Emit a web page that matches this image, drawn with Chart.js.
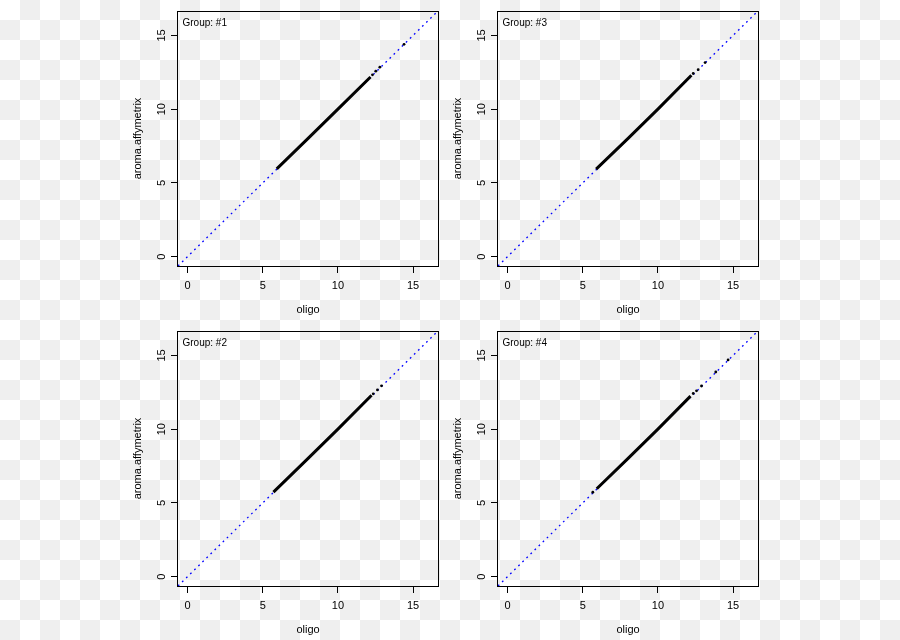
<!DOCTYPE html>
<html>
<head>
<meta charset="utf-8">
<script src="https://cdn.jsdelivr.net/npm/chart.js@4.4.1/dist/chart.umd.min.js"></script>
<style>
  html, body { margin: 0; padding: 0; }
  body {
    width: 900px; height: 640px; position: relative; overflow: hidden;
    background: repeating-conic-gradient(#efefef 0 25%, #ffffff 0 50%) 0 0 / 40px 40px;
  }
  canvas { position: absolute; }
</style>
</head>
<body>
<canvas id="g1" width="332" height="320" style="left:118px;top:0px"></canvas>
<canvas id="g3" width="332" height="320" style="left:438px;top:0px"></canvas>
<canvas id="g2" width="332" height="320" style="left:118px;top:320px"></canvas>
<canvas id="g4" width="332" height="320" style="left:438px;top:320px"></canvas>
<script>
// axis limits (same on both axes) and ticks
const axisRange = [-0.64, 16.66];
const tickValues = [0, 5, 10, 15];
const xTitle = 'oligo';
const yTitle = 'aroma.affymetrix';

// dense part of each cloud (start / end) and the scattered points above it
const band1X = [5.93, 8.0, 10.0, 12.17];
const band1Y = [5.95, 8.0, 10.0, 12.18];
const pts1X = [12.30, 12.52, 12.79, 14.40];
const pts1Y = [12.33, 12.58, 12.85, 14.40];

const band2X = [5.71, 8.0, 10.0, 12.24];
const band2Y = [5.73, 8.0, 10.0, 12.30];
const pts2X = [12.35, 12.63, 12.90];
const pts2Y = [12.40, 12.66, 12.94];

const band3X = [5.89, 8.0, 10.0, 12.23];
const band3Y = [5.93, 8.0, 10.0, 12.30];
const pts3X = [12.35, 12.68, 13.14];
const pts3Y = [12.42, 12.68, 13.16];

const band4X = [5.93, 8.0, 10.0, 12.17];
const band4Y = [5.96, 8.0, 10.0, 12.24];
const pts4X = [5.67, 12.35, 12.57, 12.90, 13.85, 14.67];
const pts4Y = [5.72, 12.42, 12.60, 12.93, 13.88, 14.70];

const font = 'Liberation Sans, Arial, sans-serif';

const framePlugin = {
  id: 'frame',
  afterDatasetsDraw(chart) {
    const {ctx, chartArea: a} = chart;
    ctx.save();
    ctx.strokeStyle = '#000';
    ctx.lineWidth = 1;
    ctx.strokeRect(a.left - 0.5, a.top + 0.5, a.right - a.left + 1, a.bottom - a.top);
    ctx.fillStyle = '#000';
    ctx.font = '10px ' + font;
    ctx.textBaseline = 'middle';
    ctx.textAlign = 'left';
    ctx.fillText(chart.options.plugins.frame.label, a.left + 4.5, a.top + 12);
    ctx.restore();
  }
};

function xy(xs, ys) {
  return xs.map((v, i) => ({x: v, y: ys[i]}));
}

function makeChart(id, label, bandX, bandY, ptsX, ptsY) {
  const axisCommon = {
    type: 'linear',
    min: axisRange[0],
    max: axisRange[1],
    afterBuildTicks: s => { s.ticks = tickValues.map(v => ({value: v})); },
    grid: {display: true, drawOnChartArea: false, drawTicks: true, tickLength: 7, color: '#000', lineWidth: 1},
    border: {display: false}
  };
  new Chart(document.getElementById(id), {
    type: 'scatter',
    data: {
      datasets: [
        {
          data: xy(ptsX, ptsY),
          pointRadius: 1.4,
          pointBackgroundColor: '#000',
          pointBorderWidth: 0,
          showLine: false
        },
        {
          data: xy(bandX, bandY),
          showLine: true,
          borderColor: '#000',
          borderWidth: 3,
          pointRadius: 0
        },
        {
          data: xy(axisRange, axisRange),
          showLine: true,
          borderColor: '#0000ff',
          borderWidth: 1.3,
          borderDash: [1.8, 3.9],
          pointRadius: 0
        }
      ]
    },
    options: {
      responsive: false,
      animation: false,
      devicePixelRatio: 1,
      layout: {padding: {top: 11, right: 12, left: 0, bottom: 0}},
      plugins: {legend: {display: false}, tooltip: {enabled: false}, frame: {label: label}},
      scales: {
        x: Object.assign({}, axisCommon, {
          afterFit: s => { s.height = 54; },
          ticks: {color: '#000', font: {family: font, size: 11}, padding: 6, callback: v => String(v)},
          title: {display: true, text: xTitle, color: '#000', font: {family: font, size: 11}, padding: {top: 0, bottom: 3}}
        }),
        y: Object.assign({}, axisCommon, {
          afterFit: s => { s.width = 60; },
          ticks: {color: '#000', font: {family: font, size: 11}, padding: 3.2, minRotation: 90, maxRotation: 90,
                  crossAlign: 'center', callback: v => String(v)},
          title: {display: true, text: yTitle, color: '#000', font: {family: font, size: 11}, padding: {top: 13.4, bottom: 0}}
        })
      }
    },
    plugins: [framePlugin]
  });
}

makeChart('g1', 'Group: #1', band1X, band1Y, pts1X, pts1Y);
makeChart('g3', 'Group: #3', band3X, band3Y, pts3X, pts3Y);
makeChart('g2', 'Group: #2', band2X, band2Y, pts2X, pts2Y);
makeChart('g4', 'Group: #4', band4X, band4Y, pts4X, pts4Y);
</script>
</body>
</html>
